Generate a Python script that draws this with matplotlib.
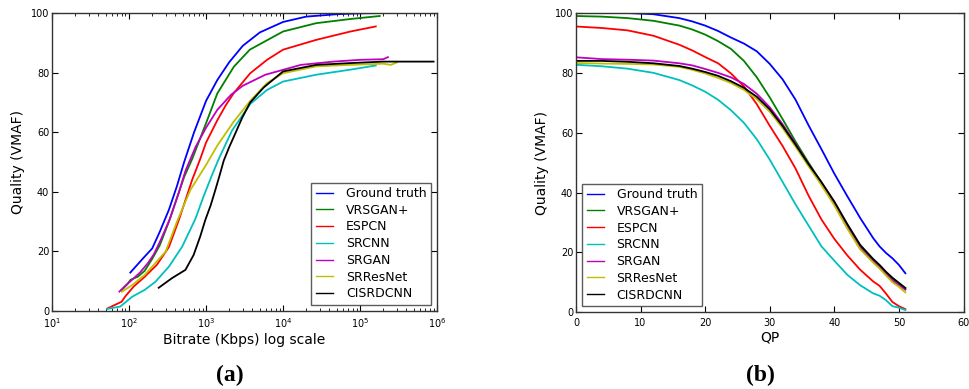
import matplotlib
matplotlib.use("Agg")
import matplotlib.pyplot as plt
import numpy as np

# legend order / colours
models = ["Ground truth", "VRSGAN+", "ESPCN", "SRCNN", "SRGAN", "SRResNet", "CISRDCNN"]
colors = ["b", "g", "r", "c", "m", "y", "k"]

# (a) bitrate (Kbps) vs VMAF
gt_rate = [104, 150, 200, 250, 330, 420, 520, 700, 1000, 1400, 2000, 3000, 5000, 10000, 20000, 50000, 100000, 200000]
gt_vmaf = [12.9, 17.5, 21, 26.5, 34, 42, 50, 60, 70.5, 77.5, 83.5, 89, 93.5, 97, 98.8, 99.6, 99.9, 100]

vrsgan_rate = [80, 95, 105, 130, 160, 200, 250, 330, 420, 520, 660, 1000, 1400, 2300, 3700, 10000, 27000, 75000, 180000]
vrsgan_vmaf = [7, 9, 10.5, 11.5, 13.5, 17.5, 22, 30, 38, 45, 51, 63, 73, 82, 87.7, 93.8, 96.6, 98, 99]

espcn_rate = [53, 65, 80, 90, 115, 160, 230, 330, 450, 660, 840, 1000, 1400, 1800, 2300, 3750, 6200, 10000, 27000, 75000, 160000]
espcn_vmaf = [0.9, 2, 3.1, 5, 8.2, 11.5, 15.5, 21.5, 31, 44, 51, 56.5, 64, 69, 73.2, 79.8, 84.3, 87.7, 91, 93.8, 95.5]

srcnn_rate = [52, 77, 110, 160, 220, 330, 490, 730, 930, 1190, 1460, 2170, 3750, 6200, 10000, 27000, 75000, 160000]
srcnn_vmaf = [0.7, 1.5, 4.8, 7.1, 9.8, 14.9, 21.6, 31, 38.5, 45.5, 51, 60.5, 69.5, 74.2, 77, 79.3, 81, 82.4]

srgan_rate = [75, 90, 110, 140, 175, 210, 260, 340, 440, 540, 730, 1000, 1400, 2100, 3000, 5900, 17000, 45000, 100000, 200000, 230000]
srgan_vmaf = [6.5, 8.5, 10.5, 13, 16, 19, 24, 31, 39.5, 47, 55, 61.5, 67.5, 72.5, 75.6, 79.3, 82.6, 83.7, 84.3, 84.5, 85.2]

srresnet_rate = [81, 110, 160, 210, 300, 420, 625, 800, 1000, 1400, 2280, 3750, 6200, 10000, 27000, 75000, 200000, 250000, 300000]
srresnet_vmaf = [6.5, 8.7, 12.1, 15.5, 20, 30, 40.6, 45, 49, 55.5, 63.5, 70.5, 76.5, 79.8, 82.1, 82.6, 83, 82.6, 83.4]

cisrdcnn_rate = [243, 360, 540, 690, 840, 980, 1150, 1320, 1500, 1700, 2000, 2400, 2940, 3750, 5600, 10000, 27000, 75000, 200000, 900000]
cisrdcnn_vmaf = [7.8, 11, 13.8, 18.8, 25, 30.6, 35.5, 40.6, 45.5, 50.5, 55, 59.6, 64.8, 70, 75, 80.4, 82.6, 83.2, 83.7, 83.7]

# (b) QP vs VMAF
qp = [0, 4, 8, 12, 16, 18, 20, 22, 24, 26, 28, 30, 32, 34, 36, 38, 40, 42, 44, 46, 47, 48, 49, 50, 51]
gt_qp = [100, 100, 100, 99.6, 98.3, 97.2, 95.8, 94, 91.8, 89.8, 87.2, 83, 77.8, 71, 62.5, 54.5, 46.3, 38.8, 31.5, 24.8, 22, 19.8, 18, 15.8, 13]
vrsgan_qp = [99, 98.8, 98.3, 97.4, 95.8, 94.5, 92.8, 90.6, 88, 84, 78.5, 71.8, 64.5, 57, 50, 43.3, 36.2, 29, 22.2, 17.5, 15.5, 13.2, 11.2, 9.6, 7.8]
espcn_qp = [95.5, 95, 94.2, 92.4, 89.4, 87.5, 85.3, 83.2, 79.8, 75.5, 69.5, 62.3, 55.5, 48, 39, 31, 24.5, 19, 14.2, 10.3, 8.8, 6.2, 3.4, 2, 1]
srcnn_qp = [82.7, 82.2, 81.4, 80, 77.6, 75.8, 73.7, 71, 67.5, 63.3, 57.8, 51, 43.5, 36, 29, 22, 17.2, 12.5, 9, 6.3, 5.5, 4, 2, 1.5, 0.7]
srgan_qp = [85.2, 84.6, 84.4, 84.1, 83.2, 82.5, 81.3, 80, 78.5, 76.3, 73, 68.5, 62.8, 56.3, 49.5, 43.2, 36.3, 28.5, 21.5, 17, 15, 12.8, 10.6, 9, 7.5]
srresnet_qp = [83.3, 83.1, 83, 82.8, 82, 81, 79.8, 78.3, 76.6, 74.3, 71.2, 67, 61.5, 55.3, 48.8, 42.5, 35.7, 28, 21, 16.6, 14.6, 12.3, 10, 8.5, 6.6]
cisrdcnn_qp = [84, 84, 83.7, 83.2, 82.3, 81.4, 80.3, 79, 77.2, 75, 72, 67.8, 62.2, 56, 49.5, 43.5, 37, 29.5, 22.5, 17.8, 15.8, 13.5, 11.5, 9.8, 8.1]

rates = [gt_rate, vrsgan_rate, espcn_rate, srcnn_rate, srgan_rate, srresnet_rate, cisrdcnn_rate]
vmafs = [gt_vmaf, vrsgan_vmaf, espcn_vmaf, srcnn_vmaf, srgan_vmaf, srresnet_vmaf, cisrdcnn_vmaf]
qp_vmafs = [gt_qp, vrsgan_qp, espcn_qp, srcnn_qp, srgan_qp, srresnet_qp, cisrdcnn_qp]

plt.rcParams["font.family"] = "DejaVu Sans"
plt.rcParams["xtick.direction"] = "in"
plt.rcParams["ytick.direction"] = "in"

fig = plt.figure(figsize=(9.7, 3.89), dpi=100)
ax1 = fig.add_axes([0.0536, 0.2005, 0.397, 0.766])
ax2 = fig.add_axes([0.5938, 0.1975, 0.3995, 0.769])

for name, c, r, v in zip(models, colors, rates, vmafs):
    ax1.plot(r, v, color=c, lw=1.3, label=name)
for name, c, v in zip(models, colors, qp_vmafs):
    ax2.plot(qp, v, color=c, lw=1.3, label=name)

ax1.set_xscale("log")
ax1.set_xlim(10, 1e6)
ax1.set_ylim(0, 100)
ax1.set_xlabel("Bitrate (Kbps) log scale", fontsize=10, labelpad=2)
ax2.set_xlim(0, 60)
ax2.set_ylim(0, 100)
ax2.set_xticks(np.arange(0, 61, 10))
ax2.set_xlabel("QP", fontsize=10, labelpad=2)

for ax in (ax1, ax2):
    ax.set_yticks(np.arange(0, 101, 20))
    ax.set_ylabel("Quality (VMAF)", fontsize=10, labelpad=4)
    ax.tick_params(which="both", top=True, right=True, labelsize=7)
    ax.tick_params(axis="x", pad=4)
    ax.tick_params(axis="y", pad=2)
    ax.tick_params(which="major", length=4, width=0.8)
    ax.tick_params(which="minor", length=2, width=0.6)
    for s in ax.spines.values():
        s.set_linewidth(1.0)
        s.set_color("#333333")

leg_kw = dict(fontsize=9, frameon=True, fancybox=False, handlelength=1.4,
              handletextpad=1.0, labelspacing=0.3, borderpad=0.35, borderaxespad=0.5)
l1 = ax1.legend(loc="lower right", **leg_kw)
l2 = ax2.legend(loc="lower left", **leg_kw)
for lg in (l1, l2):
    lg.get_frame().set_edgecolor("#333333")
    lg.get_frame().set_linewidth(1.0)
    for h in lg.get_lines():
        h.set_linewidth(1.0)

fig.text(0.2365, 0.02, "(a)", fontsize=17, fontweight="bold", family="Liberation Serif", ha="center")
fig.text(0.7835, 0.02, "(b)", fontsize=17, fontweight="bold", family="Liberation Serif", ha="center")

fig.savefig("out.png", dpi=100)
